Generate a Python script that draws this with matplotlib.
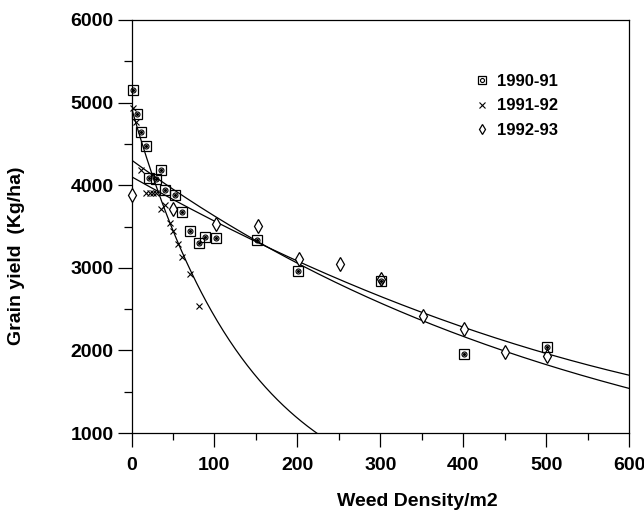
import numpy as np
import matplotlib
matplotlib.use("Agg")
import matplotlib.pyplot as plt
from matplotlib.ticker import MultipleLocator

plt.rcParams['font.family'] = ['Liberation Sans Narrow', 'Liberation Sans', 'DejaVu Sans']
plt.rcParams['font.weight'] = 'bold'

# observed yields
x_9091 = [2, 7, 11, 17, 21, 30, 36, 41, 52, 61, 70, 81, 89, 102, 151, 201, 301, 401, 501]
y_9091 = [5150, 4860, 4650, 4480, 4085, 4075, 4185, 3940, 3880, 3670, 3450, 3295, 3375, 3365,
          3335, 2965, 2840, 1960, 2045]

x_9192 = [2, 6, 11, 18, 22, 26, 30, 36, 40, 46, 50, 56, 61, 71, 81]
y_9192 = [4930, 4760, 4185, 3900, 3900, 3900, 3900, 3710, 3760, 3545, 3440, 3290, 3135, 2930, 2540]

x_9293 = [1, 50, 102, 152, 202, 251, 301, 351, 401, 451, 501]
y_9293 = [3880, 3710, 3530, 3505, 3105, 3040, 2865, 2415, 2260, 1980, 1930]

labels = ['1990-91', '1991-92', '1992-93']

# fitted response curves
fit_steep = (4935, 0.00715)          # y = a*exp(-k*x)
fit_exp = (4305, 0.001713)           # y = a*exp(-k*x)
fit_quad = (4103, -5.649, 0.00274)   # y = a + b*x + c*x^2

xs_steep = np.linspace(0, 240, 200)
xs_full = np.linspace(0, 600, 400)
ys_steep = fit_steep[0] * np.exp(-fit_steep[1] * xs_steep)
ys_exp = fit_exp[0] * np.exp(-fit_exp[1] * xs_full)
ys_quad = fit_quad[0] + fit_quad[1] * xs_full + fit_quad[2] * xs_full ** 2

fig = plt.figure(figsize=(6.44, 5.17), dpi=100)
ax = fig.add_axes([131.5 / 644, 84 / 517, 497.5 / 644, 413 / 517])

ax.plot(xs_steep, ys_steep, color='black', lw=0.9, zorder=2)
ax.plot(xs_full, ys_exp, color='black', lw=0.9, zorder=2)
ax.plot(xs_full, ys_quad, color='black', lw=0.9, zorder=2)

sq = ax.plot(x_9091, y_9091, ls='none', marker='s', ms=7.8, mfc='none', mec='black', mew=0.9,
             zorder=4, clip_on=False)[0]
ci = ax.plot(x_9091, y_9091, ls='none', marker='o', ms=3.6, mfc='none', mec='black', mew=0.8,
             zorder=4, clip_on=False)[0]
ax.plot(x_9091, y_9091, ls='none', marker='o', ms=1.3, mfc='black', mec='black', zorder=4, clip_on=False)
cr = ax.plot(x_9192, y_9192, ls='none', marker='x', ms=5, mec='black', mew=0.8, zorder=3, clip_on=False)[0]
di = ax.plot(x_9293, y_9293, ls='none', marker='d', ms=7, mfc='white', mec='black', mew=0.9,
             zorder=3, clip_on=False)[0]

ax.legend([(sq, ci), cr, di], labels, loc='upper left', bbox_to_anchor=(0.66, 0.905),
          frameon=False, fontsize=12, handlelength=0.8, handletextpad=0.5,
          labelspacing=0.55, markerscale=0.8)

ax.set_xlim(0, 600)
ax.set_ylim(1000, 6000)
ax.xaxis.set_major_locator(MultipleLocator(100))
ax.xaxis.set_minor_locator(MultipleLocator(50))
ax.yaxis.set_major_locator(MultipleLocator(1000))
ax.yaxis.set_minor_locator(MultipleLocator(500))
ax.tick_params(axis='x', which='major', direction='out', length=10, width=0.9, pad=7, labelsize=14)
ax.tick_params(axis='x', which='minor', direction='out', length=5, width=0.9)
ax.tick_params(axis='y', which='major', direction='out', length=10, width=0.9, pad=3, labelsize=14)
ax.tick_params(axis='y', which='minor', direction='out', length=6, width=0.9)
for lab in ax.get_xticklabels() + ax.get_yticklabels():
    lab.set_fontweight('bold')
for sp in ax.spines.values():
    sp.set_linewidth(0.9)

# scanner tint on the 2000 tick
for t in ax.yaxis.get_major_ticks():
    if abs(t.get_loc() - 2000) < 1:
        t.tick1line.set_color('#c8387a')

ax.set_xlabel('Weed Density/m2', fontsize=14, fontweight='bold')
ax.xaxis.set_label_coords(0.574, -0.145)
ax.set_ylabel('Grain yield  (Kg/ha)', fontsize=14, fontweight='bold')
ax.yaxis.set_label_coords(-0.214, 0.43)

fig.savefig('out.png', dpi=100)
